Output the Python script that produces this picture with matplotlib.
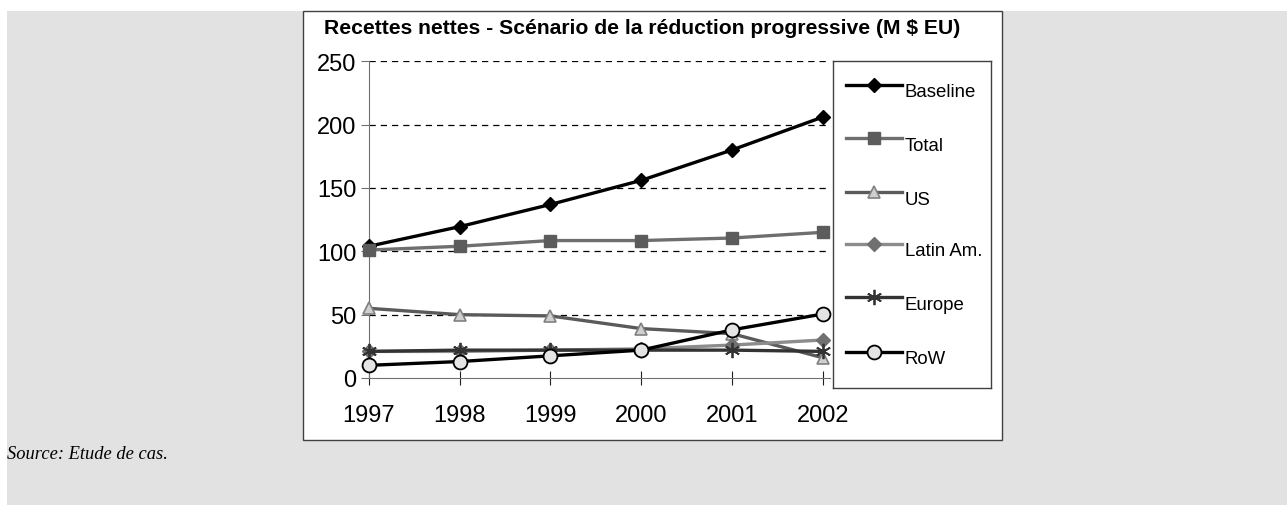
import matplotlib.pyplot as plt
from matplotlib.patches import Rectangle
from matplotlib.lines import Line2D

plt.rcParams['font.family'] = ['Liberation Sans', 'DejaVu Sans']

# data
years = [1997, 1998, 1999, 2000, 2001, 2002]
baseline = [104, 119.5, 137, 156, 180, 206]
total = [101, 104, 108.5, 108.5, 110.5, 115]
us = [55, 50, 49, 39, 35, 16]
latin_am = [21, 21, 22, 23, 26, 30]
europe = [21, 22, 22, 22, 22, 21]
row = [10, 13, 17.5, 22, 38, 50.5]

labels = ['Baseline', 'Total', 'US', 'Latin Am.', 'Europe', 'RoW']
series = [baseline, total, us, latin_am, europe, row]
styles = [
    dict(color='black', marker='D', ms=7, mfc='black', mec='black'),
    dict(color='#6e6e6e', marker='s', ms=8.5, mfc='#5c5c5c', mec='#5c5c5c'),
    dict(color='#5a5a5a', marker='^', ms=9, mfc='#cfcfcf', mec='#808080', mew=1.2),
    dict(color='#8c8c8c', marker='D', ms=7, mfc='#707070', mec='#707070'),
    dict(color='#333333', marker=(6, 2, 0), ms=11, mfc='#333333', mec='#333333', mew=1.3),
    dict(color='black', marker='o', ms=10, mfc='#e4e4e4', mec='black', mew=1.3),
]

W, H = 1287, 506
fig = plt.figure(figsize=(W / 100, H / 100), dpi=100)
fig.patch.set_facecolor('white')

# gray page background and white chart frame (behind the axes)
fig.patches.append(Rectangle((7 / W, 0), 1 - 7 / W, 1 - 12 / H,
                             transform=fig.transFigure, facecolor='#e2e2e2',
                             edgecolor='none', zorder=-2))
fig.patches.append(Rectangle((302.5 / W, 1 - 441 / H), 700 / W, 429 / H,
                             transform=fig.transFigure, facecolor='white',
                             edgecolor='#404040', lw=1, zorder=-1))

ax = fig.add_axes([369 / W, 1 - 379 / H, 461 / W, 316.7 / H])
ax.set_facecolor('none')
for s, st in zip(series, styles):
    ax.plot(years, s, lw=2.4, zorder=3, clip_on=False, **st)

ax.set_xlim(1997, 2002.08)
ax.set_ylim(0, 250)
ax.set_yticks([0, 50, 100, 150, 200, 250])
ax.set_xticks(years)
for v in [50, 100, 150, 200, 250]:
    ax.axhline(v, color='black', lw=0.9, ls=(0, (5, 4)), zorder=1)
for side in ['top', 'right']:
    ax.spines[side].set_visible(False)
ax.spines['left'].set_color('#707070')
ax.spines['bottom'].set_color('#707070')
ax.tick_params(axis='y', direction='out', length=6, color='#707070', labelsize=17, pad=3)
ax.tick_params(axis='x', direction='inout', length=10, color='#202020', labelsize=17, pad=14)

fig.text(642 / W, 1 - 28 / H, 'Recettes nettes - Scénario de la réduction progressive (M $ EU)',
         ha='center', va='center', fontsize=15.2, fontweight='bold')

# legend box drawn by hand
lg = fig.add_axes([833 / W, 1 - 389 / H, 158 / W, 327 / H])
lg.set_xlim(833, 991)
lg.set_ylim(389, 62)
lg.set_xticks([])
lg.set_yticks([])
for sp in lg.spines.values():
    sp.set_color('#404040')
    sp.set_linewidth(1)
row_y = [85.7, 139.3, 193.3, 245, 298.3, 352.7]
for lab, st, yy in zip(labels, styles, row_y):
    lg.add_line(Line2D([846, 902], [yy, yy], lw=2.4, color=st['color']))
    mk = {k: v for k, v in st.items() if k != 'color'}
    lg.add_line(Line2D([874], [yy], lw=0, **mk))
    lg.text(905, yy + 7, lab, ha='left', va='center', fontsize=13.4)

fig.text(7 / W, 1 - 455 / H, 'Source: Etude de cas.', ha='left', va='center',
         fontsize=13.3, style='italic', family=['Liberation Serif', 'DejaVu Serif'])

fig.savefig('out.png', dpi=100)
